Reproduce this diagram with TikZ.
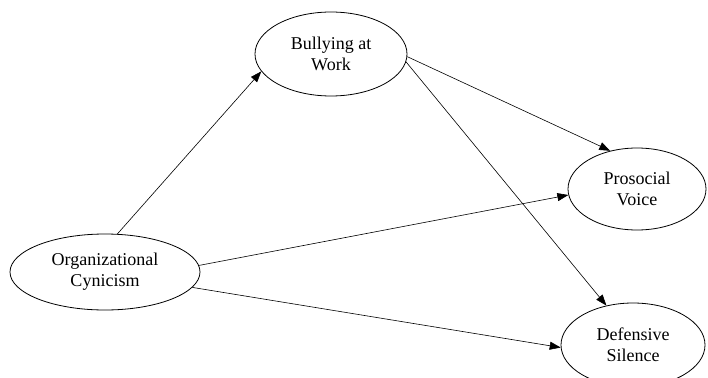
\documentclass[tikz,border=0pt]{standalone}
\usepackage{fontspec}
\setmainfont{Liberation Serif}
\usetikzlibrary{shapes.geometric,arrows.meta}
\begin{document}
\begin{tikzpicture}[x=1pt,y=-1pt,
  construct/.style={ellipse,draw,line width=0.8pt,inner sep=0pt,align=center,
    font=\fontsize{18}{21}\selectfont},
  path/.style={line width=0.6pt,-{Triangle[length=11pt,width=8pt]}}]
\useasboundingbox (0,0) rectangle (708,377);
\node[construct,minimum width=152pt,minimum height=84pt] (bully) at (331,54) {Bullying at\\Work};
\node[construct,minimum width=190pt,minimum height=76pt] (org) at (105,272) {Organizational\\Cynicism};
\node[construct,minimum width=138pt,minimum height=82pt] (pro) at (637,189) {Prosocial\\Voice};
\node[construct,minimum width=144pt,minimum height=84pt] (def) at (633,345) {Defensive\\Silence};
\draw[path] (org.72) -- (bully.194);
\draw[path] (bully.358) -- (pro.125);
\draw[path] (bully.354) -- (def.124);
\draw[path] (org.4) -- (pro.185);
\draw[path] (org.350) -- (def.182);
\end{tikzpicture}
\end{document}
